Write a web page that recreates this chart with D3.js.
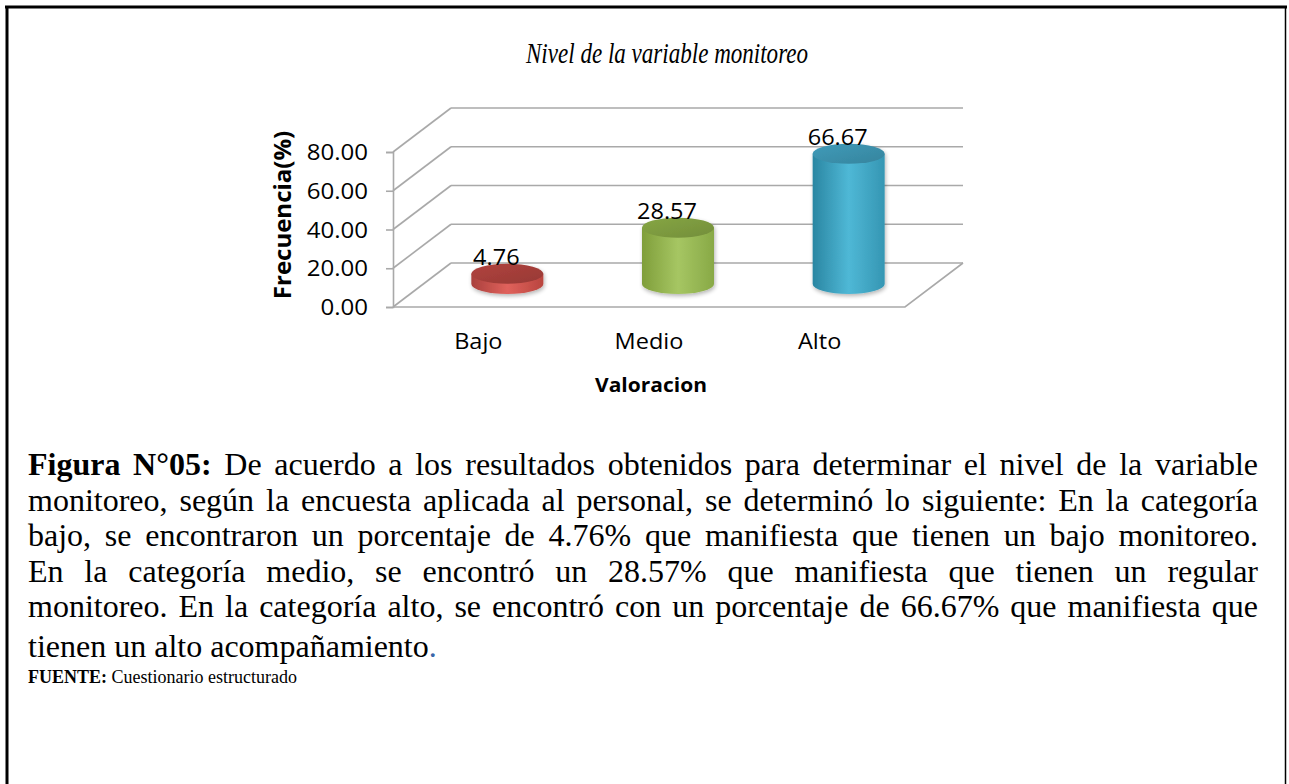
<!DOCTYPE html>
<html>
<head>
<meta charset="utf-8">
<script src="https://cdn.jsdelivr.net/npm/d3@7"></script>
<style>
  body { margin: 0; background: #fff; }
  #page { position: relative; width: 1289px; height: 784px; overflow: hidden; background: #fff; }
  #chart { position: absolute; left: 0; top: 0; }
  #texto { position: absolute; left: 28px; top: 447px; width: 1230px;
           font-family: "Liberation Serif", "Times New Roman", serif; font-size: 32px; color: #000; }
  .ln { height: 35.5px; line-height: 35.5px; overflow: visible; }
  .just { text-align: justify; text-align-last: justify; }
  .fuente { font-size: 18px; line-height: 22px; margin-top: 2px; }
</style>
</head>
<body>
<div id="page">
  <svg id="chart" width="1289" height="784"></svg>
  <div id="texto"></div>
</div>
<script>
// datos del grafico
const categorias = ['Bajo', 'Medio', 'Alto'];
const valores = [4.76, 28.57, 66.67];
const ticks = [0, 20, 40, 60, 80];
const titulo = 'Nivel de la variable monitoreo';
const ejeY = 'Frecuencia(%)';
const ejeX = 'Valoracion';

// texto de la figura (una entrada por linea, como en el original)
const lineas = [
  ['<b>Figura N°05:</b> De acuerdo a los resultados obtenidos para determinar el nivel de la variable', true],
  ['monitoreo, según la encuesta aplicada al personal, se determinó lo siguiente: En la categoría', true],
  ['bajo, se encontraron un porcentaje de 4.76% que manifiesta que tienen un bajo monitoreo.', true],
  ['En la categoría medio, se encontró un 28.57% que manifiesta que tienen un regular', true],
  ['monitoreo. En la categoría alto, se encontró con un porcentaje de 66.67% que manifiesta que', true],
  ['tienen un alto acompañamiento<span style="color:#3a66a8">.</span>', false]
];
const fuente = '<b>FUENTE:</b> Cuestionario estructurado';

// colores de cada cilindro: [borde oscuro, centro claro, borde derecho, tapa]
const paleta = [
  ['#a9403c', '#e0625c', '#b9453f', '#a23d39'],
  ['#7f9e3a', '#a6c663', '#88a946', '#7b983e'],
  ['#2a86a2', '#4fb8d6', '#3596b3', '#3a8ea9']
];

const svg = d3.select('#chart');
const font = '"Open Sans", "Liberation Sans", sans-serif';
const sx = 1.12; // el texto del grafico se ve algo ensanchado

// marco de la pagina
svg.append('line').attr('x1', 5).attr('x2', 1287).attr('y1', 7).attr('y2', 7)
  .attr('stroke', '#000').attr('stroke-width', 3);
svg.append('line').attr('x1', 7).attr('x2', 7).attr('y1', 6).attr('y2', 790)
  .attr('stroke', '#000').attr('stroke-width', 3);
svg.append('line').attr('x1', 1285.5).attr('x2', 1285.5).attr('y1', 6).attr('y2', 790)
  .attr('stroke', '#000').attr('stroke-width', 1.5);

// titulo
svg.append('text')
  .attr('x', 667).attr('y', 63)
  .attr('text-anchor', 'middle')
  .attr('textLength', 282).attr('lengthAdjust', 'spacingAndGlyphs')
  .style('font-family', '"Liberation Serif", "Times New Roman", serif')
  .style('font-style', 'italic').style('font-size', '29px')
  .text(titulo);

// escalas (frente del grafico 3D)
const x0 = 393, x1 = 905;
const dx = 58, dy = -44; // profundidad
const y = d3.scaleLinear().domain([0, 80]).range([307, 152]);
const x = d3.scaleBand().domain(categorias).range([x0, x1]);

const gridColor = '#a9a9a9';
const grid = svg.append('g').attr('fill', 'none').attr('stroke', gridColor).attr('stroke-width', 1.6);

// pared del fondo
ticks.forEach(t => {
  grid.append('line')
    .attr('x1', x0 + dx).attr('x2', x1 + dx)
    .attr('y1', y(t) + dy).attr('y2', y(t) + dy);
  // pared lateral
  grid.append('line')
    .attr('x1', x0).attr('x2', x0 + dx)
    .attr('y1', y(t)).attr('y2', y(t) + dy);
});
// piso
grid.append('path')
  .attr('d', `M${x0},${y(0)}L${x1},${y(0)}L${x1 + dx},${y(0) + dy}`);

// eje Y
const axis = svg.append('g')
  .attr('transform', `translate(${x0},0)`)
  .call(d3.axisLeft(y).tickValues(ticks).tickFormat(d3.format('.2f')).tickSize(7).tickPadding(18));
axis.select('.domain').attr('stroke', gridColor).attr('stroke-width', 1.6);
axis.selectAll('.tick line').attr('stroke', gridColor).attr('stroke-width', 1.6);
axis.selectAll('.tick text')
  .attr('x', null).attr('dy', null)
  .attr('transform', 'translate(-25,7.5) scale(' + sx + ',1)')
  .style('font-family', font).style('font-size', '21.5px').attr('fill', '#000');

// titulo eje Y
svg.append('text')
  .attr('transform', 'translate(291,215) rotate(-90)')
  .attr('text-anchor', 'middle')
  .style('font-family', font).style('font-size', '24px').style('font-weight', 700)
  .text(ejeY);

// etiquetas de categorias
categorias.forEach(c => {
  svg.append('text')
    .attr('transform', `translate(${x(c) + x.bandwidth() / 2},349) scale(${sx},1)`)
    .attr('text-anchor', 'middle')
    .style('font-family', font).style('font-size', '21px')
    .text(c);
});
svg.append('text')
  .attr('transform', `translate(651,392) scale(1.05,1)`)
  .attr('text-anchor', 'middle')
  .style('font-family', font).style('font-size', '20px').style('font-weight', 700)
  .text(ejeX);

// gradientes de los cilindros
const defs = svg.append('defs');
paleta.forEach((p, i) => {
  const g = defs.append('linearGradient').attr('id', 'cil' + i)
    .attr('x1', '0%').attr('x2', '100%').attr('y1', '0%').attr('y2', '0%');
  g.append('stop').attr('offset', '0%').attr('stop-color', p[0]);
  g.append('stop').attr('offset', '50%').attr('stop-color', p[1]);
  g.append('stop').attr('offset', '100%').attr('stop-color', p[2]);
  const t = defs.append('linearGradient').attr('id', 'tapa' + i)
    .attr('x1', '0%').attr('x2', '100%').attr('y1', '0%').attr('y2', '100%');
  t.append('stop').attr('offset', '0%').attr('stop-color', d3.color(p[3]).brighter(0.25));
  t.append('stop').attr('offset', '100%').attr('stop-color', d3.color(p[3]).darker(0.2));
});
const sombra = defs.append('filter').attr('id', 'sombra').attr('x', '-20%').attr('y', '-20%')
  .attr('width', '140%').attr('height', '140%');
sombra.append('feGaussianBlur').attr('in', 'SourceAlpha').attr('stdDeviation', 2);
sombra.append('feOffset').attr('dx', 1).attr('dy', 2).attr('result', 'b');
sombra.append('feComponentTransfer').append('feFuncA').attr('type', 'linear').attr('slope', 0.3);
const m = sombra.append('feMerge');
m.append('feMergeNode');
m.append('feMergeNode').attr('in', 'SourceGraphic');

// cilindros
const rx = 36, ry = 10;
const bars = svg.append('g');
categorias.forEach((c, i) => {
  const cx = x(c) + x.bandwidth() / 2 + dx / 2;
  const base = y(0) + dy / 2 - 1;
  const top = y(valores[i]) + dy / 2 - 2;
  const g = bars.append('g').attr('filter', 'url(#sombra)');
  g.append('path')
    .attr('d', `M${cx - rx},${top}L${cx - rx},${base}A${rx},${ry} 0 0 0 ${cx + rx},${base}L${cx + rx},${top}Z`)
    .attr('fill', `url(#cil${i})`);
  g.append('ellipse')
    .attr('cx', cx).attr('cy', top).attr('rx', rx).attr('ry', ry)
    .attr('fill', `url(#tapa${i})`);
  // etiqueta de valor
  svg.append('text')
    .attr('transform', `translate(${cx - 11},${top - ry + 1}) scale(${sx},1)`)
    .attr('text-anchor', 'middle')
    .style('font-family', font).style('font-size', '21px')
    .text(d3.format('.2f')(valores[i]));
});

// texto inferior
const texto = d3.select('#texto');
lineas.forEach(([html, just], i) => {
  texto.append('div')
    .attr('class', 'ln' + (just ? ' just' : ''))
    .style('margin-top', i === 5 ? '4px' : null)
    .html(html);
});
texto.append('div').attr('class', 'fuente').html(fuente);
</script>
</body>
</html>
